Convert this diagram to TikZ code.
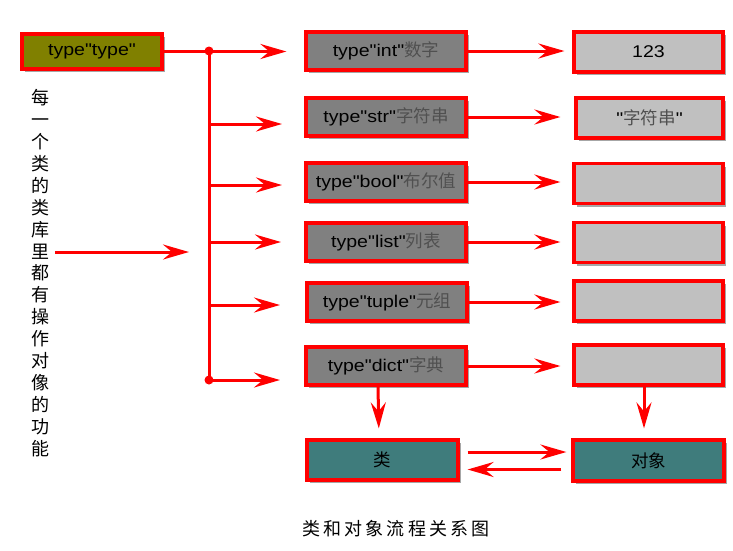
\documentclass[tikz,border=0pt]{standalone}
\usepackage{fontspec}
\setmainfont{Liberation Sans}
\newfontfamily\boxfont{Liberation Sans}[FakeStretch=1.15]
\newfontfamily\cjk{Noto Sans CJK SC}
\newfontfamily\capfont{Noto Sans CJK SC}[LetterSpace=18]
\usetikzlibrary{arrows.meta,shadows}
\definecolor{olivebox}{HTML}{808000}
\definecolor{graybox}{HTML}{808080}
\definecolor{lightbox}{HTML}{C0C0C0}
\definecolor{tealbox}{HTML}{3F7C7C}
\definecolor{cjkgray}{HTML}{505050}
\newcommand{\zh}[1]{{\cjk\fontsize{17.5}{20}\selectfont\color{cjkgray}#1}}
\tikzset{
  box/.style={draw=red, line width=3.2pt, inner sep=0pt, text=black,
    font=\boxfont\fontsize{17}{20}\selectfont,
    drop shadow={shadow xshift=3pt, shadow yshift=-3pt, fill=black, opacity=0.35}},
  typebox/.style={box, fill=olivebox, minimum width=140pt, minimum height=35pt},
  classbox/.style={box, fill=graybox, minimum width=160pt, minimum height=38pt},
  valbox/.style={box, fill=lightbox, minimum width=149pt, minimum height=40pt},
  tealnode/.style={box, fill=tealbox, minimum width=151pt, minimum height=40pt,
    font=\cjk\fontsize{17.5}{20}\selectfont},
  arr/.style={draw=red, line width=3pt,
    -{Stealth[length=26pt,width=15pt,inset=9pt]}},
  trunk/.style={draw=red, line width=3pt},
  dot/.style={circle, fill=red, inner sep=0pt, minimum size=9pt}
}
\begin{document}
\begin{tikzpicture}[x=1pt,y=-1pt]
\useasboundingbox[fill=white] (0,0) rectangle (733,550);

% nodes
\node[typebox] (tt) at (92,51.5) {type"type"};

\node[classbox] (cint)   at (386,51)  {type"int"\zh{数字}};
\node[classbox] (cstr)   at (386,117) {type"str"\zh{字符串}};
\node[classbox] (cbool)  at (386,182) {type"bool"\zh{布尔值}};
\node[classbox] (clist)  at (386,242) {type"list"\zh{列表}};
\node[classbox] (ctuple) at (387,302) {type"tuple"\zh{元组}};
\node[classbox] (cdict)  at (386,366) {type"dict"\zh{字典}};

\node[valbox] (vint)   at (648.5,52)  {123};
\node[valbox, minimum width=147pt] (vstr) at (649.5,118) {"\zh{字符串}"};
\node[valbox] (vbool)  at (648.5,183.5) {};
\node[valbox] (vlist)  at (648.5,242.5) {};
\node[valbox] (vtuple) at (648.5,301) {};
\node[valbox] (vdict)  at (648.5,365) {};

\node[tealnode] (lei) at (382.5,460) {类};
\node[tealnode, minimum height=41pt] (obj) at (648.5,460.5) {对象};

% vertical text
\node[inner sep=0pt, align=center, font=\cjk\fontsize{18}{21.9}\selectfont] (side) at (40,273)
  {每\\一\\个\\类\\的\\类\\库\\里\\都\\有\\操\\作\\对\\像\\的\\功\\能};

% caption
\node[inner sep=0pt, font=\capfont\fontsize{18}{20}\selectfont] (cap) at (396,529) {类和对象流程关系图};

% trunk
\coordinate (j1) at (209,51);
\coordinate (j2) at (209,380);
\draw[trunk] (j1) -- (j2);
\node[dot] (d1) at (j1) {};
\node[dot] (d2) at (j2) {};

\draw[arr, shorten >=18pt] (tt.east) -- (tt.east -| cint.west);

\coordinate (b2) at (209,124); \coordinate (e2) at (282,124);
\coordinate (b3) at (209,185); \coordinate (e3) at (282,185);
\coordinate (b4) at (209,242); \coordinate (e4) at (281,242);
\coordinate (b5) at (209,305); \coordinate (e5) at (280,305);
\coordinate (e6) at (280,380);
\draw[arr] (b2) -- (e2);
\draw[arr] (b3) -- (e3);
\draw[arr] (b4) -- (e4);
\draw[arr] (b5) -- (e5);
\draw[arr] (j2) -- (e6);

\coordinate (ls) at (55,252); \coordinate (le) at (189,252);
\draw[arr] (ls) -- (le);

% class -> value
\draw[arr, shorten >=8pt] (cint.east) -- (cint.east -| vint.west);
\draw[arr, shorten >=14pt] (cstr.east) -- (cstr.east -| vstr.west);
\draw[arr, shorten >=12pt] (cbool.east) -- (cbool.east -| vbool.west);
\draw[arr, shorten >=12pt] (clist.east) -- (clist.east -| vlist.west);
\draw[arr, shorten >=12pt] (ctuple.east) -- (ctuple.east -| vtuple.west);
\draw[arr, shorten >=12pt] (cdict.east) -- (cdict.east -| vdict.west);

% down arrows
\draw[arr, shorten >=10pt] ([xshift=-8pt]cdict.south) -- ([xshift=-3.5pt]lei.north);
\draw[arr, shorten >=10pt] ([xshift=-4.5pt]vdict.south) -- ([xshift=-4.5pt]obj.north);

% between class and object
\draw[arr, shorten <=8pt, shorten >=5pt] ([yshift=8pt]lei.east) -- ([yshift=8pt]lei.east -| obj.west);
\draw[arr, shorten <=10pt, shorten >=8pt] ([yshift=-9pt]obj.west) -- ([yshift=-9pt]obj.west -| lei.east);
\end{tikzpicture}
\end{document}
